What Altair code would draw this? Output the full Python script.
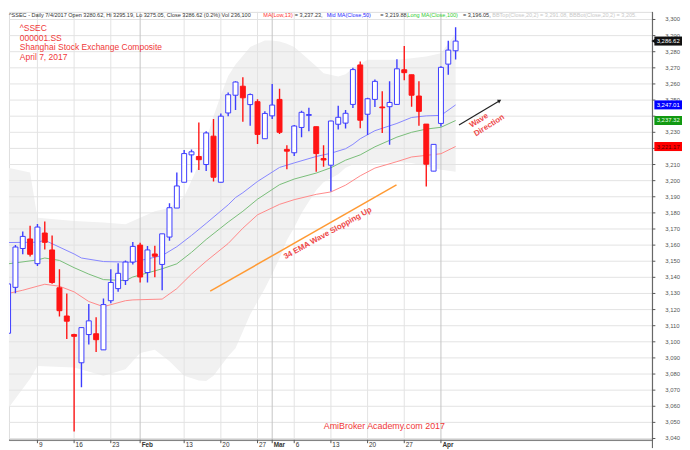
import altair as alt
import pandas as pd

# ---------------- data ----------------
dates = ["Jan 3", "Jan 4", "Jan 5", "Jan 6", "Jan 9", "Jan 10", "Jan 11", "Jan 12", "Jan 13",
         "Jan 16", "Jan 17", "Jan 18", "Jan 19", "Jan 20", "Jan 23", "Jan 24", "Jan 25", "Jan 26",
         "Feb 3", "Feb 6", "Feb 7", "Feb 8", "Feb 9", "Feb 10", "Feb 13", "Feb 14", "Feb 15",
         "Feb 16", "Feb 17", "Feb 20", "Feb 21", "Feb 22", "Feb 23", "Feb 24", "Feb 27", "Feb 28",
         "Mar 1", "Mar 2", "Mar 3", "Mar 6", "Mar 7", "Mar 8", "Mar 9", "Mar 10", "Mar 13",
         "Mar 14", "Mar 15", "Mar 16", "Mar 17", "Mar 20", "Mar 21", "Mar 22", "Mar 23", "Mar 24",
         "Mar 27", "Mar 28", "Mar 29", "Mar 30", "Mar 31", "Apr 5", "Apr 6", "Apr 7"]
opens = [3105.3, 3133.8, 3157.9, 3163.8, 3148.5, 3167.5, 3157.0, 3133.5, 3116.0,
         3104.5, 3087.0, 3104.5, 3105.0, 3095.0, 3125.5, 3133.0, 3138.0, 3149.5,
         3160.0, 3143.0, 3154.5, 3148.0, 3165.0, 3183.0, 3199.0, 3216.0, 3215.0,
         3210.0, 3227.6, 3199.0, 3242.0, 3253.0, 3258.6, 3247.2, 3249.0, 3226.0,
         3240.2, 3250.4, 3219.4, 3217.3, 3233.0, 3240.5, 3233.5, 3213.7, 3209.6,
         3235.0, 3235.7, 3247.3, 3271.8, 3241.2, 3250.4, 3245.7, 3245.9, 3247.3,
         3268.8, 3265.7, 3252.5, 3235.1, 3205.9, 3235.5, 3272.3, 3280.6]
highs = [3136.5, 3160.1, 3168.5, 3172.0, 3173.1, 3174.6, 3166.0, 3145.0, 3130.0,
         3105.0, 3109.0, 3123.5, 3115.3, 3126.8, 3145.0, 3148.8, 3150.4, 3162.0,
         3161.5, 3159.5, 3159.6, 3167.0, 3186.0, 3205.0, 3219.0, 3219.4, 3236.1,
         3230.6, 3238.2, 3241.6, 3254.7, 3261.7, 3264.1, 3254.1, 3250.5, 3243.0,
         3260.0, 3257.0, 3221.9, 3234.6, 3243.3, 3245.3, 3233.5, 3221.9, 3237.2,
         3246.4, 3243.8, 3270.0, 3273.9, 3251.4, 3262.7, 3255.5, 3261.7, 3275.3,
         3283.5, 3265.7, 3261.7, 3235.1, 3222.2, 3271.0, 3286.8, 3295.2]
lows = [3105.3, 3130.1, 3154.3, 3153.0, 3147.0, 3157.3, 3136.0, 3115.7, 3101.8,
        3044.3, 3071.8, 3098.3, 3093.6, 3095.0, 3124.0, 3131.0, 3135.3, 3148.0,
        3136.8, 3136.8, 3140.0, 3132.0, 3162.7, 3183.0, 3199.0, 3205.0, 3206.6,
        3206.0, 3199.4, 3198.8, 3240.0, 3243.9, 3236.6, 3234.1, 3222.7, 3226.0,
        3238.2, 3229.0, 3207.0, 3215.3, 3227.0, 3230.6, 3205.5, 3208.6, 3193.3,
        3231.7, 3232.3, 3245.0, 3232.5, 3228.4, 3245.7, 3229.6, 3222.2, 3247.3,
        3262.3, 3245.9, 3234.1, 3196.3, 3205.9, 3233.6, 3265.7, 3275.1]
closes = [3135.9, 3158.8, 3165.4, 3154.3, 3171.2, 3161.7, 3136.8, 3119.3, 3112.8,
          3103.4, 3108.8, 3113.0, 3101.3, 3123.1, 3136.8, 3142.5, 3149.5, 3159.2,
          3140.2, 3157.0, 3153.1, 3167.0, 3183.2, 3196.7, 3216.8, 3217.9, 3213.0,
          3229.6, 3202.1, 3240.0, 3253.3, 3261.2, 3251.4, 3253.4, 3228.7, 3241.7,
          3246.9, 3230.0, 3218.3, 3233.9, 3242.4, 3241.0, 3216.8, 3212.8, 3237.0,
          3239.3, 3241.8, 3268.9, 3237.5, 3250.8, 3261.6, 3245.2, 3248.5, 3269.4,
          3267.0, 3253.0, 3243.0, 3210.2, 3222.5, 3270.3, 3281.0, 3286.6]

# moving averages, read at sample sessions (session number from Jan 3)
blue_at = [0, 4, 5, 9, 10, 13, 16, 17, 21, 23, 25, 27, 30, 31, 32, 34, 37, 39, 42, 44, 46, 47, 48, 50, 53, 55, 57, 59, 61]
blue_val = [3161.6, 3161.8, 3163.0, 3154.5, 3152.0, 3149.8, 3149.5, 3149.4, 3153.5, 3159.0, 3166.0,
            3173.5, 3185.0, 3189.5, 3192.5, 3199.5, 3208.2, 3211.0, 3215.0, 3217.0, 3219.8, 3222.5,
            3226.0, 3231.0, 3235.5, 3239.2, 3240.2, 3240.5, 3247.0]
green_at = [0, 4, 5, 7, 9, 11, 13, 16, 17, 21, 23, 25, 27, 30, 32, 34, 37, 39, 42, 44, 46, 48, 50, 53, 55, 57, 59, 61]
green_val = [3148.4, 3150.8, 3152.0, 3150.5, 3146.0, 3142.0, 3138.6, 3138.0, 3140.2, 3145.3, 3148.4,
             3155.5, 3163.5, 3174.3, 3181.0, 3188.5, 3197.5, 3201.0, 3204.7, 3208.0, 3212.7, 3216.0,
             3221.0, 3227.0, 3230.0, 3232.0, 3233.1, 3237.3]
red_at = [0, 2, 4, 5, 7, 9, 11, 13, 16, 17, 21, 23, 25, 27, 30, 32, 34, 37, 39, 42, 44, 46, 48, 50, 53, 55, 57, 59, 61]
red_val = [3130.0, 3132.0, 3134.5, 3135.7, 3134.5, 3131.0, 3125.0, 3121.8, 3125.5, 3126.0, 3126.5,
           3133.0, 3142.0, 3150.0, 3161.0, 3170.5, 3178.8, 3185.3, 3188.2, 3191.5, 3193.0, 3197.2,
           3203.0, 3207.8, 3211.8, 3214.7, 3215.7, 3216.7, 3221.2]

# Bollinger band (20,2) edges
bb_at = [0, 3, 4, 9, 13, 16, 18, 20, 22, 24, 26, 27, 28, 29, 30, 31, 33, 35, 36, 37, 38, 39,
         40, 41, 42, 43, 45, 46, 47, 49, 50, 53, 55, 57, 59, 61]
bb_top = [3208.0, 3205.0, 3177.0, 3175.0, 3174.0, 3173.0, 3177.0, 3181.0, 3183.0, 3190.0, 3210.0,
          3225.0, 3240.0, 3253.0, 3265.0, 3272.0, 3283.0, 3287.0, 3287.0, 3286.3, 3285.0, 3283.0,
          3279.0, 3275.0, 3271.0, 3266.7, 3264.7, 3266.0, 3269.8, 3275.0, 3275.0, 3275.0, 3276.0,
          3277.0, 3279.0, 3291.1]
bb_bot = [3058.6, 3077.0, 3085.0, 3084.0, 3079.0, 3083.0, 3093.0, 3095.0, 3088.0, 3079.0, 3076.0,
          3075.7, 3079.0, 3085.0, 3091.0, 3096.0, 3117.0, 3133.0, 3142.0, 3152.0, 3163.0, 3171.0,
          3180.0, 3187.0, 3194.0, 3199.0, 3204.0, 3208.0, 3210.0, 3210.5, 3211.0, 3211.5, 3211.0,
          3209.0, 3206.7, 3205.5]

# axes
price_ticks = list(range(3040, 3301, 10))
date_tick_at = [4, 9, 14, 18, 24, 29, 34, 36, 39, 44, 49, 54, 59]
date_tick_lab = ["9", "16", "23", "Feb", "13", "20", "27", "Mar", "6", "13", "20", "27", "Apr"]
month_ticks = [18, 36, 59]

# right-axis value tags
tag_val = [3286.62, 3247.01, 3237.32, 3221.17]
tag_txt = ["3,286.62", "3,247.01", "3,237.32", "3,221.17"]
tag_bg = ["#111111", "#0000ff", "#119911", "#ff0000"]
tag_fg = ["#ffffff", "#ffffff", "#e8ffe8", "#5a0000"]

# annotation lines (session, price)
trend_at = [27.55, 52.94]
trend_val = [3131.4, 3197.4]
arrow_at = [61.46, 67.0]
arrow_val = [3234.5, 3249.6]

# header / title texts
hdr_text = ["^SSEC - Daily 7/4/2017 Open 3280.62, Hi 3295.19, Lo 3275.05, Close 3286.62 (0.2%) Vol 236,100",
            "MA(Low,13)", "= 3,237.23,", "Mid MA(Close,50)", "= 3,219.88,", "Long MA(Close,100)",
            "= 3,196.05,", "BBTop(Close,20,2) = 3,291.08, BBBot(Close,20,2) = 3,205."]
hdr_color = ["#333333", "#ff3030", "#333333", "#2a2aff", "#333333", "#33cc33", "#333333", "#c8c8c8"]
hdr_x = [0, 257.7, 289.7, 322, 376.3, 403.7, 460, 489.7]
title_lines = ["^SSEC", "000001.SS", "Shanghai Stock Exchange Composite", "April 7, 2017"]
title_y = [16.3, 26.3, 36.0, 45.3]

# ---------------- build ----------------
W, H = 652, 434
xs = alt.Scale(domain=[0.795, 87.15], nice=False, zero=False)
ys = alt.Scale(domain=[3038.95, 3304.7], nice=False, zero=False)
AX = "#555555"

def X(f):
    return alt.X(f, scale=xs, axis=None)

def Y(f):
    return alt.Y(f, scale=ys, axis=None)

BLUE_C = "#3c3cff"
RED_C = "#ff1414"

cd = pd.DataFrame({"i": range(len(dates)), "date": dates, "open": opens, "high": highs,
                   "low": lows, "close": closes})
up = cd["close"] >= cd["open"]
cd["stroke"] = [BLUE_C if u else RED_C for u in up]
cd["fill"] = ["#ffffff" if u else RED_C for u in up]

band = alt.Chart(pd.DataFrame({"i": bb_at, "top": bb_top, "bot": bb_bot})).mark_area(
    color="#f1f1f1", clip=True).encode(x=X("i:Q"), y=Y("top:Q"), y2="bot:Q")

pt_df = pd.DataFrame({"p": price_ticks})
hgrid = alt.Chart(pt_df).mark_rule(color="#e3e3e3", strokeWidth=1).encode(y=Y("p:Q"))

# price labels that are fully hidden behind a value tag are not drawn
lab_df = pd.DataFrame({"p": [p for p in price_ticks
                             if min(abs(p - t) for t in tag_val) >= 2.8]})

vg_df = pd.DataFrame({"i": date_tick_at, "lab": date_tick_lab,
                      "c": ["#c4c4c4" if t in month_ticks else "#e3e3e3" for t in date_tick_at],
                      "m": [1 if t in month_ticks else 0 for t in date_tick_at]})
vgrid = alt.Chart(vg_df).mark_rule(strokeWidth=1).encode(
    x=X("i:Q"), color=alt.Color("c:N", scale=None))

# right price axis drawn from the tick list
y_dom = alt.Chart(pd.DataFrame({"d": [0]})).mark_rule(color=AX, strokeWidth=1).encode(
    x=alt.value(652), y=alt.value(0), y2=alt.value(442))
y_ticks = alt.Chart(pt_df).mark_rule(color=AX, strokeWidth=1).encode(
    x=alt.value(652), x2=alt.value(655), y=Y("p:Q"))
y_labels = alt.Chart(lab_df).mark_text(fontSize=6, font="Liberation Sans", color=AX,
                                       align="left", baseline="middle").encode(
    x=alt.value(665), y=Y("p:Q"), text=alt.Text("p:Q", format=",d"))

# bottom date axis
x_dom = alt.Chart(pd.DataFrame({"d": [0]})).mark_rule(color=AX, strokeWidth=1).encode(
    x=alt.value(0), x2=alt.value(652), y=alt.value(434))
x_ticks = alt.Chart(vg_df).mark_rule(color=AX, strokeWidth=1).encode(
    x=X("i:Q"), y=alt.value(434), y2=alt.value(437))
x_labels = alt.Chart(vg_df).transform_filter("datum.m == 0").mark_text(
    fontSize=6.5, font="Liberation Sans", color="#333333",
    align="left", baseline="top", dx=1.5).encode(
    x=X("i:Q"), y=alt.value(436), text="lab:N")
x_labels_m = alt.Chart(vg_df).transform_filter("datum.m == 1").mark_text(
    fontSize=6.5, font="Liberation Sans", color="#333333", fontWeight="bold",
    align="left", baseline="top", dx=1.5).encode(
    x=X("i:Q"), y=alt.value(436), text="lab:N")

def ma_line(at, vals, color):
    return alt.Chart(pd.DataFrame({"i": at, "v": vals})).mark_line(
        color=color, strokeWidth=1, clip=True).encode(x=X("i:Q"), y=Y("v:Q"))

blue = ma_line(blue_at, blue_val, "#8585ff")
green = ma_line(green_at, green_val, "#78bd78")
red = ma_line(red_at, red_val, "#ff8888")

wicks = alt.Chart(cd).mark_rule(strokeWidth=1.4, clip=True).encode(
    x=X("i:Q"), y=Y("low:Q"), y2="high:Q", color=alt.Color("stroke:N", scale=None))
bodies = alt.Chart(cd).mark_bar(size=5, strokeWidth=1, clip=True).encode(
    x=X("i:Q"), y=Y("open:Q"), y2="close:Q",
    fill=alt.Fill("fill:N", scale=None), stroke=alt.Stroke("stroke:N", scale=None))

trend = alt.Chart(pd.DataFrame({"i": trend_at, "v": trend_val})).mark_line(
    color="#ff9a33", strokeWidth=1.5).encode(x=X("i:Q"), y=Y("v:Q"))
arrow = alt.Chart(pd.DataFrame({"i": arrow_at, "v": arrow_val})).mark_line(
    color="#222222", strokeWidth=1.2).encode(x=X("i:Q"), y=Y("v:Q"))
arrow_head = alt.Chart(pd.DataFrame({"i": arrow_at[-1:], "v": arrow_val[-1:]})).mark_point(
    shape="triangle-up", size=18, filled=True, color="#222222", angle=61, opacity=1).encode(
    x=X("i:Q"), y=Y("v:Q"))

rot_df = pd.DataFrame({"i": [43.6, 64.2, 65.6], "v": [3167.2, 3237.2, 3234.1],
                       "t": ["34 EMA Wave Slopping Up", "Wave", "Direction"],
                       "a": [331, 328, 328]})
rot_text = alt.Chart(rot_df).mark_text(color="#ee4848", fontSize=8, fontWeight="bold",
                                       font="Liberation Sans",
                                       baseline="middle", align="center").encode(
    x=X("i:Q"), y=Y("v:Q"), text="t:N", angle=alt.Angle("a:Q", scale=None))

header_layers = []
for t, c, x in zip(hdr_text, hdr_color, hdr_x):
    header_layers.append(
        alt.Chart(pd.DataFrame({"t": [t]})).mark_text(
            fontSize=5.6, font="Liberation Sans", align="left", baseline="middle", color=c
        ).encode(x=alt.value(x), y=alt.value(3.5), text="t:N"))
for t, y in zip(title_lines, title_y):
    header_layers.append(
        alt.Chart(pd.DataFrame({"t": [t]})).mark_text(
            fontSize=8.6, font="Liberation Sans", align="left", baseline="middle", color="#f03838"
        ).encode(x=alt.value(11), y=alt.value(y), text="t:N"))

brand = alt.Chart(pd.DataFrame({"t": ["AmiBroker Academy.com  2017"]})).mark_text(
    fontSize=9, font="Liberation Sans", align="left", baseline="middle", color="#f03838").encode(
    x=alt.value(319), y=alt.value(420), text="t:N")

tag_df = pd.DataFrame({"v": tag_val, "t": tag_txt, "bg": tag_bg, "fg": tag_fg})
tag_df["v0"] = tag_df["v"] - 2.8
tag_df["v1"] = tag_df["v"] + 2.8
tag_rect = alt.Chart(tag_df).mark_rect().encode(
    x=alt.value(654), x2=alt.value(682), y=Y("v0:Q"), y2="v1:Q",
    fill=alt.Fill("bg:N", scale=None))
tag_ptr = alt.Chart(tag_df.iloc[:1]).mark_point(shape="triangle-left", size=22, filled=True,
                                                color="#111111", opacity=1).encode(
    x=alt.value(653), y=Y("v:Q"))
tag_text = alt.Chart(tag_df).mark_text(fontSize=6, font="Liberation Sans", align="center",
                                       baseline="middle").encode(
    x=alt.value(668), y=Y("v:Q"), text="t:N", color=alt.Color("fg:N", scale=None))

chart = alt.layer(
    band, hgrid, vgrid, blue, green, red, wicks, bodies, trend, arrow, arrow_head,
    rot_text, *header_layers, brand,
    y_dom, y_ticks, y_labels, x_dom, x_ticks, x_labels, x_labels_m,
    tag_rect, tag_ptr, tag_text,
).properties(
    width=W, height=H, padding={"left": 0, "top": 0, "right": 0, "bottom": 0},
).configure_view(stroke=None).configure(background="white")

chart.save("out.html", embed_options={"renderer": "svg", "actions": False})
